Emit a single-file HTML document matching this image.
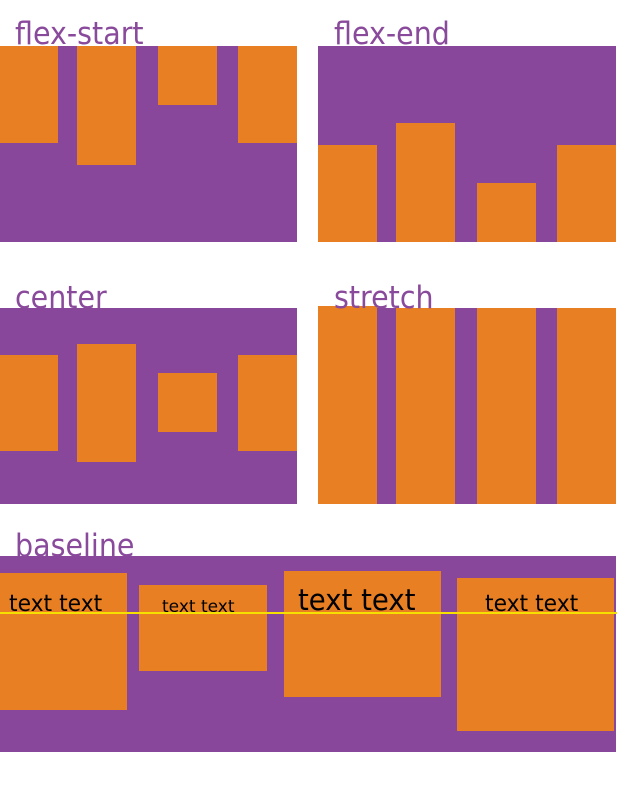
<!DOCTYPE html>
<html><head><style>
body{margin:0;width:617px;height:786px;background:#fff;position:relative;overflow:hidden;font-family:"DejaVu Sans","Liberation Sans",sans-serif}
.l{position:absolute;color:#8a4a9c;font-size:31px;line-height:1;transform:scaleX(0.92);transform-origin:0 0}
.p{position:absolute;background:#88479a}
.o{position:absolute;background:#e87f23}
.t{position:absolute;color:#000;white-space:nowrap;line-height:1}
</style></head><body>
<div class="p" style="left:0;top:46px;width:297px;height:196px"></div>
<div class="o" style="left:0;top:46px;width:58px;height:97px"></div>
<div class="o" style="left:77px;top:46px;width:59px;height:119px"></div>
<div class="o" style="left:158px;top:46px;width:59px;height:59px"></div>
<div class="o" style="left:238px;top:46px;width:59px;height:97px"></div>
<div class="l" style="left:15px;top:19px">flex-start</div>

<div class="p" style="left:318px;top:46px;width:298px;height:196px"></div>
<div class="o" style="left:318px;top:145px;width:59px;height:97px"></div>
<div class="o" style="left:396px;top:123px;width:59px;height:119px"></div>
<div class="o" style="left:477px;top:183px;width:59px;height:59px"></div>
<div class="o" style="left:557px;top:145px;width:59px;height:97px"></div>
<div class="l" style="left:334px;top:19px">flex-end</div>

<div class="p" style="left:0;top:308px;width:297px;height:196px"></div>
<div class="o" style="left:0;top:355px;width:58px;height:96px"></div>
<div class="o" style="left:77px;top:344px;width:59px;height:118px"></div>
<div class="o" style="left:158px;top:373px;width:59px;height:59px"></div>
<div class="o" style="left:238px;top:355px;width:59px;height:96px"></div>
<div class="l" style="left:15px;top:283px">center</div>

<div class="p" style="left:318px;top:308px;width:298px;height:196px"></div>
<div class="o" style="left:318px;top:306px;width:59px;height:198px"></div>
<div class="o" style="left:396px;top:308px;width:59px;height:196px"></div>
<div class="o" style="left:477px;top:308px;width:59px;height:196px"></div>
<div class="o" style="left:557px;top:308px;width:59px;height:196px"></div>
<div class="l" style="left:334px;top:283px">stretch</div>

<div class="p" style="left:0;top:556px;width:616px;height:196px"></div>
<div class="o" style="left:0;top:573px;width:127px;height:137px"></div>
<div class="o" style="left:139px;top:585px;width:128px;height:86px"></div>
<div class="o" style="left:284px;top:571px;width:157px;height:126px"></div>
<div class="o" style="left:457px;top:578px;width:157px;height:153px"></div>
<div class="t" style="left:9px;top:593px;font-size:23px;transform:scaleX(0.95);transform-origin:0 0">text text</div>
<div class="t" style="left:162px;top:599px;font-size:17px">text text</div>
<div class="t" style="left:298px;top:586px;font-size:29px;transform:scaleX(0.95);transform-origin:0 0">text text</div>
<div class="t" style="left:485px;top:593px;font-size:23px;transform:scaleX(0.95);transform-origin:0 0">text text</div>
<div style="position:absolute;left:0;top:612px;width:617px;height:2px;background:#f5e000"></div>
<div class="l" style="left:15px;top:531px">baseline</div>
</body></html>
